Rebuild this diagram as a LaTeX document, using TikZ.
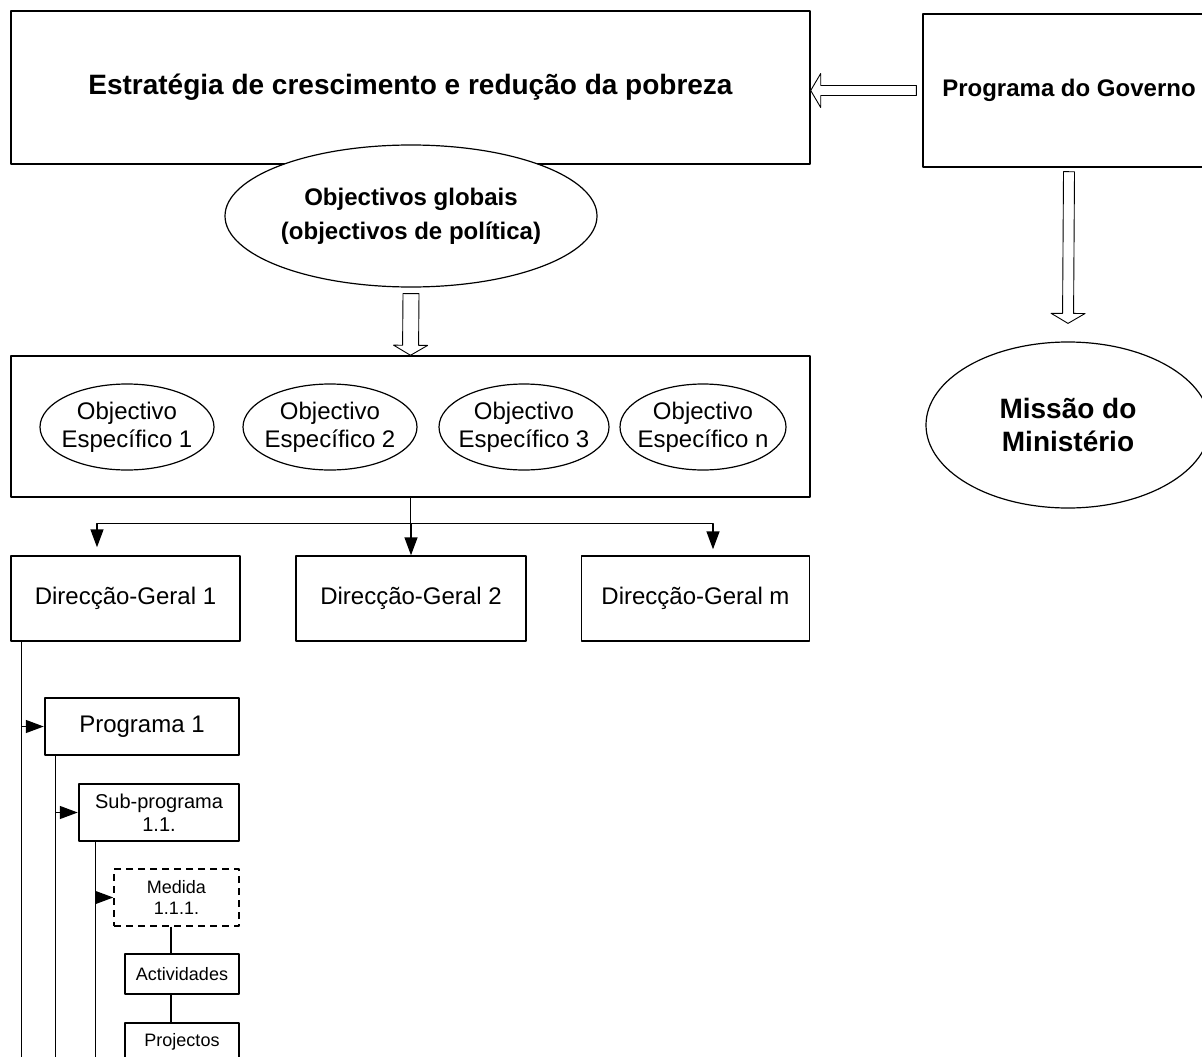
\documentclass[tikz,border=0pt]{standalone}
\usepackage{fontspec}
\setmainfont{Liberation Sans}
\usetikzlibrary{shapes.geometric,arrows.meta,calc}

\tikzset{
  box/.style={draw, line width=1.4pt, inner sep=0pt, align=center, font=\fontsize{24}{28}\selectfont},
  heavy/.style={box, line width=2.5pt},
  oval/.style={draw, ellipse, fill=white, line width=1.2pt, inner xsep=-8pt, inner ysep=0pt, align=center, font=\fontsize{24}{28}\selectfont},
  small/.style={box, font=\fontsize{18}{21}\selectfont},
  link/.style={line width=1.4pt},
}
% outlined block arrow: #1 half shaft width, #2 start, #3 tip
\newcommand{\hollowarrow}[3]{%
  \draw[line width=0.9pt, fill=white] let \p1=(#2), \p2=(#3),
    \n1={atan2(\y2-\y1,\x2-\x1)}, \n2={veclen(\x2-\x1,\y2-\y1)} in
    [shift={(\p1)}, rotate=\n1]
    (0pt,-#1pt) -- (\n2-10pt,-#1pt) -- (\n2-10pt,-17pt) -- (\n2+0pt,0pt)
    -- (\n2-10pt,17pt) -- (\n2-10pt,#1pt) -- (0pt,#1pt) -- cycle;}

\begin{document}
\begin{tikzpicture}[x=1pt, y=-1pt, line join=round, >={Triangle[length=18pt, width=13pt]}]
	\useasboundingbox (0,0) rectangle (1202,1057);
	% top level
	\node[box, minimum width=799pt, minimum height=153pt, font=\fontsize{28}{34}\selectfont\bfseries] (est) at (410.5,87.5) {Estratégia de crescimento e redução da pobreza};
	\node[box, minimum width=292pt, minimum height=153pt, font=\fontsize{24}{28}\selectfont\bfseries] (gov) at (1069,90.5) {Programa do Governo};
	\node[oval, inner xsep=0pt, minimum width=372pt, minimum height=142pt, font=\fontsize{24}{34}\selectfont\bfseries] (glob) at (411,216) {Objectivos globais\\(objectivos de política)};
	\node[oval, inner xsep=0pt, minimum width=284pt, minimum height=166pt, font=\fontsize{28}{33}\selectfont\bfseries] (mis) at (1068,425) {Missão do\\Ministério};
	\hollowarrow{5}{[xshift=-6pt]gov.west}{gov.west -| est.east}
	\hollowarrow{5.5}{[yshift=-4pt]gov.south}{[yshift=18pt]mis.north}
	% specific objectives
	\node[box, minimum width=799pt, minimum height=141pt] (obj) at (410.5,426.5) {};
	\node[oval, minimum width=174pt, minimum height=86pt] (o1) at (127,427) {Objectivo\\Específico 1};
	\node[oval, minimum width=174pt, minimum height=86pt] (o2) at (330,427) {Objectivo\\Específico 2};
	\node[oval, minimum width=170pt, minimum height=86pt] (o3) at (524,427) {Objectivo\\Específico 3};
	\node[oval, minimum width=166pt, minimum height=86pt] (on) at (703,427) {Objectivo\\Específico n};
	\hollowarrow{8}{[yshift=-6pt]glob.south}{obj.north}
	% directions
	\node[box, minimum width=229pt, minimum height=85pt] (dg1) at (125.5,598.5) {Direcção-Geral 1};
	\node[box, minimum width=230pt, minimum height=85pt] (dg2) at (411,598.5) {Direcção-Geral 2};
	\node[box, minimum width=228pt, minimum height=85pt] (dg3) at (695.5,598.5) {Direcção-Geral m};
	\draw[link] (obj.south) -- ++(0,26) coordinate (split);
	\draw[link, ->] (split) -- (split -| dg2.north) -- (dg2.north);
	\draw[link, ->, shorten >=8pt] (split) -| ([xshift=-28.5pt]dg1.north);
	\draw[link, ->, shorten >=6pt] (split) -| ([xshift=17.5pt]dg3.north);
	% programme tree
	\node[heavy, minimum width=194pt, minimum height=57pt] (prog) at (142,726.5) {Programa 1};
	\node[heavy, minimum width=160pt, minimum height=57pt, font=\fontsize{20}{23}\selectfont] (sub) at (159,812.5) {Sub-programa\\1.1.};
	\node[small, dash pattern=on 7pt off 5pt, minimum width=125pt, minimum height=57pt] (med) at (176.5,897.5) {Medida\\1.1.1.};
	\node[small, minimum width=114pt, minimum height=40pt] (act) at (182,974) {Actividades};
	\node[small, minimum width=114pt, minimum height=37pt] (proj) at (182,1041.5) {Projectos};
	\draw[link] ([xshift=11pt]dg1.south west) -- ++(0,420);
	\draw[link] ([xshift=12pt]prog.south west) -- ++(0,310);
	\draw[link] ([xshift=18pt]sub.south west) -- ++(0,220);
	\draw[link, ->] ([xshift=11pt]dg1.south west) |- (prog.west);
	\draw[link, ->] ([xshift=12pt]prog.south west) |- (sub.west);
	\draw[link, ->] ([xshift=18pt]sub.south west) |- (med.west);
	\draw[link] ([xshift=-5.5pt]med.south) -- ([xshift=-5.5pt]med.south |- act.north);
	\draw[link] ([xshift=-11pt]act.south) -- ([xshift=-11pt]act.south |- proj.north);
\end{tikzpicture}
\end{document}
